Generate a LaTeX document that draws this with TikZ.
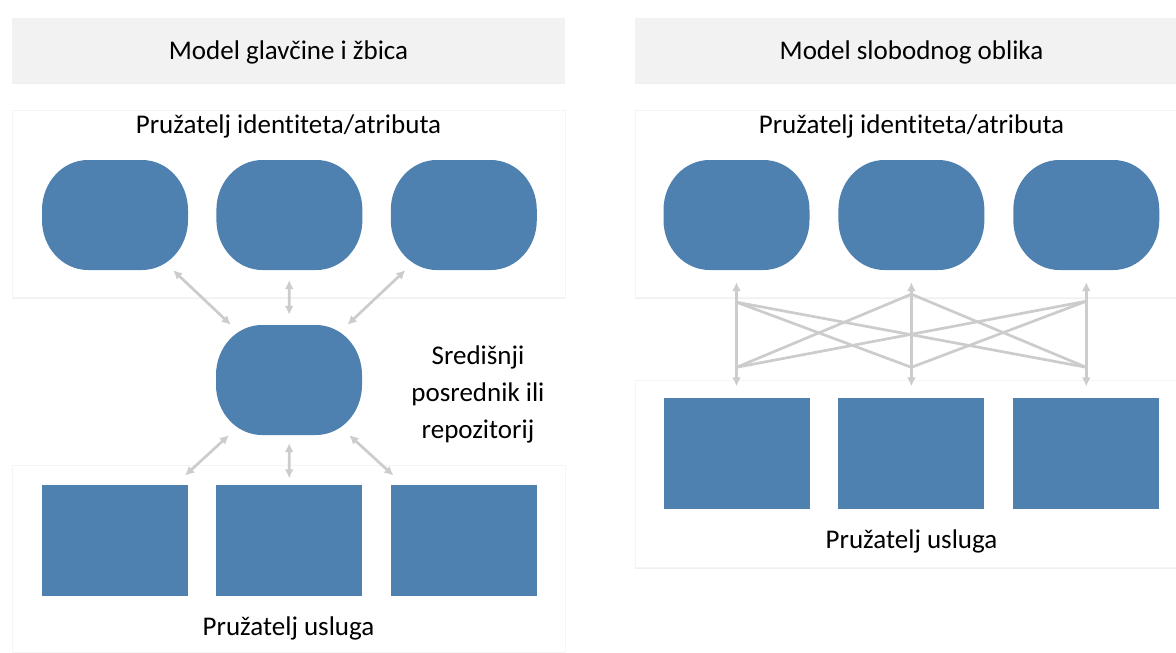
\documentclass[tikz,border=0pt]{standalone}
\usepackage{fontspec}
\setmainfont{Carlito}[Ligatures=NoCommon]
\usetikzlibrary{positioning,shadows,arrows.meta}

\definecolor{idpblue}{RGB}{79,129,176}
\definecolor{headgray}{RGB}{242,242,242}
\definecolor{linkgray}{RGB}{204,204,204}

\begin{document}
\begin{tikzpicture}[x=1pt,y=-1pt,
	header/.style={rectangle, fill=headgray, minimum width=553pt, minimum height=64pt, inner sep=0pt, text height=24pt, text depth=6pt, font=\fontsize{27}{32}\selectfont, drop shadow={shadow xshift=0pt, shadow yshift=-2pt, opacity=.12}},
	panel/.style={rectangle, fill=white, draw=black!4, minimum width=553pt, minimum height=187pt, inner sep=0pt, drop shadow={shadow xshift=0pt, shadow yshift=-2pt, opacity=.12}},
	idp/.style={rectangle, minimum width=146pt, minimum height=110pt, inner sep=0pt,
		path picture={\fill[idpblue] (path picture bounding box.west) ++(0,5pt)
			arc[start angle=180, end angle=90, x radius=46pt, y radius=50pt] -- ++(54pt,0)
			arc[start angle=90, end angle=0, x radius=46pt, y radius=50pt] -- ++(0,-10pt)
			arc[start angle=0, end angle=-90, x radius=46pt, y radius=50pt] -- ++(-54pt,0)
			arc[start angle=-90, end angle=-180, x radius=46pt, y radius=50pt] -- cycle;}},
	sp/.style={rectangle, fill=idpblue, minimum width=146pt, minimum height=111pt, inner sep=0pt},
	lbl/.style={inner sep=0pt, font=\fontsize{27}{37}\selectfont},
	link/.style={{Latex[length=9pt,width=9pt]}-{Latex[length=9pt,width=9pt]}, draw=linkgray, line width=2.7pt},
	cross/.style={draw=linkgray, line width=2.7pt}
	]

	\useasboundingbox (0,0) rectangle (1176,653);
	\clip (0,0) rectangle (1176,653);

		\node (hdrL) [header] at (288.5,50) {Model glavčine i žbica};
		\node (hdrR) [header] at (911.5,50) {Model slobodnog oblika};

		\node (idpL) [panel] at (288.5,203.5) {};
		\node (spL) [panel] at (288.5,558.5) {};
		\node (idpR) [panel] at (911.5,203.5) {};
		\node (spR) [panel] at (911.5,473.5) {};

		\node (idpLtxt) [lbl] at (288.5,126) {Pružatelj identiteta/atributa};
		\node (idpRtxt) [lbl] at (911.5,126) {Pružatelj identiteta/atributa};
		\node (spLtxt) [lbl] at (288.5,628) {Pružatelj usluga};
		\node (spRtxt) [lbl] at (911.5,541) {Pružatelj usluga};

			\node (ipL1) [idp] at (115,215) {};
			\node (ipL2) [idp, right=28pt of ipL1] {};
			\node (ipL3) [idp, right=28pt of ipL2] {};
			\node (hub) [idp] at (289,380) {};
			\node (hubtxt) [lbl, align=center] at (478,394) {Središnji\\posrednik ili\\repozitorij};
			\node (svL1) [sp] at (115,540) {};
			\node (svL2) [sp, right=28pt of svL1] {};
			\node (svL3) [sp, right=28pt of svL2] {};

			\node (ipR1) [idp] at (736.5,215) {};
			\node (ipR2) [idp, right=28.5pt of ipR1] {};
			\node (ipR3) [idp, right=28.5pt of ipR2] {};
			\node (svR1) [sp] at (736.5,453) {};
			\node (svR2) [sp, right=28.5pt of svR1] {};
			\node (svR3) [sp, right=28.5pt of svR2] {};

	\draw [link] (ipL1) -- (hub);
	\draw [link, shorten <=10pt, shorten >=10pt] (ipL2) -- (hub);
	\draw [link] (ipL3) -- (hub);

	\draw [link, shorten >=13pt] (hub) -- (svL1);
	\draw [link, shorten <=8pt, shorten >=6pt] (hub) -- (svL2);
	\draw [link, shorten >=13pt] (hub) -- (svL3);

	\foreach \i/\d in {1/20pt,2/12pt,3/19pt}{
		\coordinate [below=12pt of ipR\i.south] (tR\i);
		\coordinate [above=11pt of svR\i.north] (bR\i);
		\coordinate [below=\d of tR\i] (jt\i);
		\coordinate [above=19pt of bR\i] (jb\i);
		\draw [link] (tR\i) -- (bR\i);
	}

	\draw [cross] (jt1) -- (jb2);
	\draw [cross] (jt1) -- (jb3);
	\draw [cross] (jt2) -- (jb1);
	\draw [cross] (jt2) -- (jb3);
	\draw [cross] (jt3) -- (jb1);
	\draw [cross] (jt3) -- (jb2);

\end{tikzpicture}
\end{document}
